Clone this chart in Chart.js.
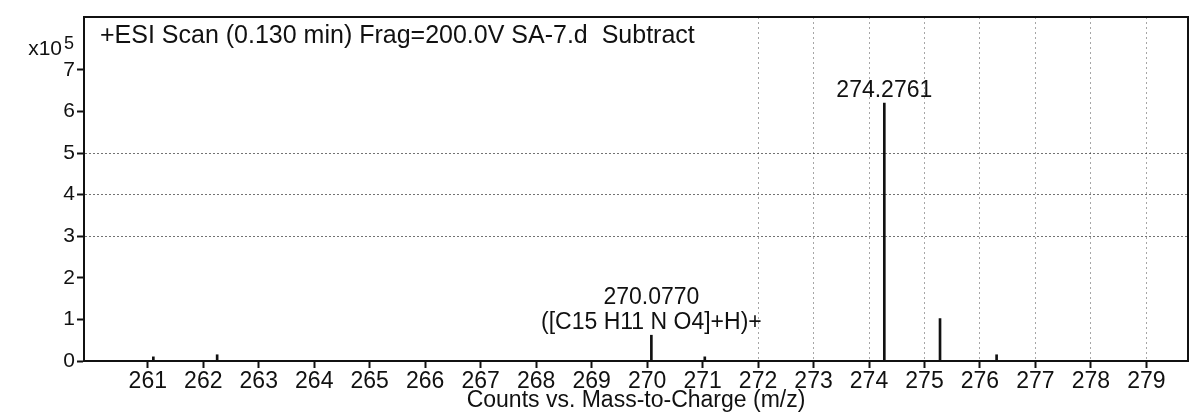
<!DOCTYPE html>
<html>
<head>
<meta charset="utf-8">
<script src="https://cdn.jsdelivr.net/npm/chart.js@4.4.1/dist/chart.umd.min.js"></script>
<style>
  html, body { margin: 0; padding: 0; background: #fff; }
  #wrap { width: 1197px; height: 414px; position: relative; }
</style>
</head>
<body>
<div id="wrap"><canvas id="spectrum"></canvas></div>
<script>
// Peak list (m/z) and abundance in units of 10^5 counts
const mzValues = [261.10, 262.25, 270.0770, 271.04, 274.2761, 275.28, 276.30];
const counts = [0.10, 0.15, 0.62, 0.10, 6.20, 1.02, 0.15];

// Axis ticks
const xTickValues = [261, 262, 263, 264, 265, 266, 267, 268, 269, 270, 271, 272, 273, 274, 275, 276, 277, 278, 279];
const yTickValues = [0, 1, 2, 3, 4, 5, 6, 7];
// Only some grid lines show up on the printout
const xGridValues = [272, 273, 274, 275, 276, 277, 278, 279];
const yGridValues = [3, 4, 5];

// Labelled peaks
const peakLabels = [
    { mz: 270.0770, lines: ['270.0770', '([C15 H11 N O4]+H)+'] },
    { mz: 274.2761, lines: ['274.2761'] }
];

const FONT = "'Liberation Sans', Arial, Helvetica, sans-serif";
const titleText = '+ESI Scan (0.130 min) Frag=200.0V SA-7.d  Subtract';

// Frame, title, exponent and peak labels
const spectrumDecor = {
    id: 'spectrumDecor',
    afterDraw(chart) {
        const { ctx, chartArea: a, scales } = chart;
        ctx.save();
        ctx.strokeStyle = '#111';
        ctx.lineWidth = 2;
        ctx.strokeRect(a.left, a.top, a.right - a.left, a.bottom - a.top);

        ctx.fillStyle = '#111';
        ctx.textBaseline = 'alphabetic';
        ctx.textAlign = 'left';
        ctx.font = '25px ' + FONT;
        ctx.fillText(titleText, a.left + 16, a.top + 26);

        // x10^5 exponent label
        ctx.textAlign = 'right';
        ctx.font = '21px ' + FONT;
        ctx.fillText('x10', a.left - 22, a.top + 38);
        ctx.font = '18px ' + FONT;
        ctx.fillText('5', a.left - 10, a.top + 32);

        // peak annotations
        ctx.textAlign = 'center';
        ctx.font = '23px ' + FONT;
        peakLabels.forEach(p => {
            const i = mzValues.indexOf(p.mz);
            const x = scales.x.getPixelForValue(p.mz);
            const yTop = scales.y.getPixelForValue(counts[i]);
            let y = yTop - 6;
            for (let k = p.lines.length - 1; k >= 0; k--) {
                ctx.fillText(p.lines[k], x, y);
                y -= 25;
            }
        });
        ctx.restore();
    }
};

const ctx = document.getElementById('spectrum');

new Chart(ctx, {
    type: 'bar',
    data: {
        datasets: [{
            data: mzValues.map((mz, i) => ({ x: mz, y: counts[i] })),
            backgroundColor: '#111',
            borderWidth: 0,
            barThickness: 2
        }]
    },
    options: {
        responsive: true,
        maintainAspectRatio: false,
        animation: false,
        layout: { padding: { top: 17, right: 9, left: 0, bottom: 0 } },
        plugins: {
            legend: { display: false },
            tooltip: { enabled: false }
        },
        scales: {
            x: {
                type: 'linear',
                min: 259.85,
                max: 279.75,
                offset: false,
                afterBuildTicks: s => { s.ticks = xTickValues.map(v => ({ value: v })); },
                afterFit: s => { s.height = 53; },
                border: { color: '#111', width: 2, dash: [2, 3] },
                grid: {
                    offset: false,
                    color: c => xGridValues.includes(c.tick && c.tick.value) ? 'rgba(0,0,0,0.35)' : 'rgba(0,0,0,0)',
                    tickColor: '#111',
                    tickLength: 7,
                    lineWidth: 1,
                    tickWidth: 2
                },
                ticks: {
                    color: '#111',
                    font: { family: FONT, size: 23 },
                    padding: 0,
                    maxRotation: 0,
                    autoSkip: false
                },
                title: {
                    display: true,
                    text: 'Counts vs. Mass-to-Charge (m/z)',
                    color: '#111',
                    font: { family: FONT, size: 23 },
                    padding: { top: -9, bottom: 0 }
                }
            },
            y: {
                min: 0,
                max: 8.27,
                afterBuildTicks: s => { s.ticks = yTickValues.map(v => ({ value: v })); },
                afterFit: s => { s.width = 84; },
                border: { color: '#111', width: 2, dash: [2, 2] },
                grid: {
                    color: c => yGridValues.includes(c.tick && c.tick.value) ? 'rgba(0,0,0,0.55)' : 'rgba(0,0,0,0)',
                    tickColor: '#111',
                    tickLength: 7,
                    lineWidth: 1,
                    tickWidth: 2
                },
                ticks: {
                    color: '#111',
                    font: { family: FONT, size: 21 },
                    padding: 2
                }
            }
        }
    },
    plugins: [spectrumDecor]
});
</script>
</body>
</html>
